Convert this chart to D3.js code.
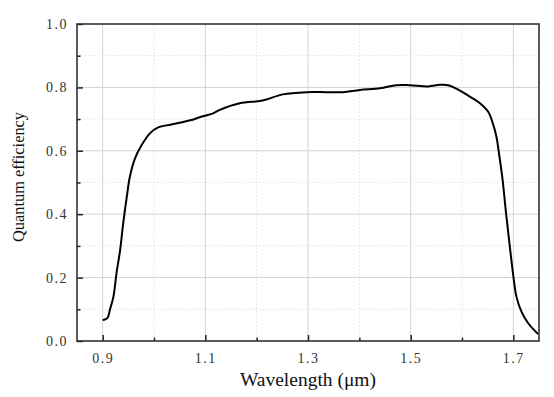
<!DOCTYPE html>
<html>
<head>
<meta charset="utf-8">
<script src="https://cdn.jsdelivr.net/npm/d3@7/dist/d3.min.js"></script>
<style>
  html, body { margin: 0; padding: 0; background: #fff; }
  svg { display: block; }
</style>
</head>
<body>
<svg id="chart" width="554" height="397"></svg>
<script>
const wavelength = [0.900, 0.905, 0.910, 0.914, 0.921, 0.927, 0.934, 0.940, 0.947, 0.953, 0.963, 0.976, 0.992, 1.008, 1.034, 1.073, 1.089, 1.115, 1.128, 1.167, 1.206, 1.219, 1.251, 1.297, 1.336, 1.368, 1.401, 1.440, 1.472, 1.498, 1.534, 1.557, 1.573, 1.596, 1.615, 1.635, 1.651, 1.660, 1.667, 1.673, 1.679, 1.686, 1.693, 1.700, 1.706, 1.716, 1.729, 1.748];
const efficiency = [0.066, 0.068, 0.074, 0.098, 0.140, 0.214, 0.287, 0.371, 0.455, 0.518, 0.576, 0.618, 0.655, 0.674, 0.683, 0.697, 0.706, 0.718, 0.729, 0.750, 0.757, 0.762, 0.778, 0.785, 0.785, 0.785, 0.792, 0.797, 0.807, 0.807, 0.803, 0.808, 0.807, 0.790, 0.771, 0.750, 0.723, 0.687, 0.645, 0.581, 0.510, 0.400, 0.300, 0.205, 0.140, 0.092, 0.056, 0.022];
const xMajorTicks = [0.9, 1.1, 1.3, 1.5, 1.7];
const xMinorTicks = [1.0, 1.2, 1.4, 1.6];
const yMajorTicks = [0.0, 0.2, 0.4, 0.6, 0.8, 1.0];
const yMinorTicks = [0.1, 0.3, 0.5, 0.7, 0.9];
const xTitle = "Wavelength (\u03bcm)";
const yTitle = "Quantum efficiency";

const svg = d3.select("#chart");
const m = { left: 77, right: 554 - 539, top: 24, bottom: 397 - 341 };
const W = 554 - m.left - m.right, H = 397 - m.top - m.bottom;
const x = d3.scaleLinear().domain([0.85, 1.75]).range([0, W]);
const y = d3.scaleLinear().domain([0, 1]).range([H, 0]);
const g = svg.append("g").attr("transform", `translate(${m.left},${m.top})`);
const font = "'Liberation Serif', 'DejaVu Serif', serif";

// grid
g.append("g").selectAll("line").data(xMajorTicks).join("line")
  .attr("x1", d => x(d)).attr("x2", d => x(d)).attr("y1", 0).attr("y2", H)
  .attr("stroke", "#d2d2d2").attr("stroke-width", 1);
g.append("g").selectAll("line").data(xMinorTicks).join("line")
  .attr("x1", d => x(d)).attr("x2", d => x(d)).attr("y1", 0).attr("y2", H)
  .attr("stroke", "#e2e2e2").attr("stroke-width", 1).attr("stroke-dasharray", "1.5,2");
g.append("g").selectAll("line").data(yMajorTicks.filter(d => d > 0 && d < 1)).join("line")
  .attr("x1", 0).attr("x2", W).attr("y1", d => y(d)).attr("y2", d => y(d))
  .attr("stroke", "#d2d2d2").attr("stroke-width", 1);
g.append("g").selectAll("line").data(yMinorTicks).join("line")
  .attr("x1", 0).attr("x2", W).attr("y1", d => y(d)).attr("y2", d => y(d))
  .attr("stroke", "#e2e2e2").attr("stroke-width", 1).attr("stroke-dasharray", "1.5,2");

// axes with inward ticks
const fmt = d3.format(".1f");
const xAxis = g.append("g").attr("transform", `translate(0,${H})`)
  .call(d3.axisBottom(x).tickValues(xMajorTicks).tickSizeInner(-6).tickSizeOuter(0).tickPadding(12).tickFormat(fmt));
const xAxisMinor = g.append("g").attr("transform", `translate(0,${H})`)
  .call(d3.axisBottom(x).tickValues(xMinorTicks).tickSizeInner(-3.5).tickSizeOuter(0).tickFormat(""));
const yAxis = g.append("g")
  .call(d3.axisLeft(y).tickValues(yMajorTicks).tickSizeInner(-6).tickSizeOuter(0).tickPadding(9).tickFormat(fmt));
const yAxisMinor = g.append("g")
  .call(d3.axisLeft(y).tickValues(yMinorTicks).tickSizeInner(-3.5).tickSizeOuter(0).tickFormat(""));
[xAxis, xAxisMinor, yAxis, yAxisMinor].forEach(a => {
  a.select(".domain").remove();
  a.selectAll(".tick line").attr("stroke", "#222").attr("stroke-width", 1.5);
  a.selectAll("text").attr("font-family", font).attr("font-size", 14).attr("fill", "#333")
    .attr("letter-spacing", "1.5px");
});

// frame
g.append("rect").attr("x", 0).attr("y", 0).attr("width", W).attr("height", H)
  .attr("fill", "none").attr("stroke", "#333").attr("stroke-width", 1.6);

// curve
const pts = wavelength.map((w, i) => [w, efficiency[i]]);
g.append("path").datum(pts)
  .attr("fill", "none").attr("stroke", "#000").attr("stroke-width", 2)
  .attr("stroke-linejoin", "round")
  .attr("d", d3.line().x(d => x(d[0])).y(d => y(d[1])).curve(d3.curveCatmullRom.alpha(0.5)));

// titles
svg.append("text").attr("x", m.left + x(1.3)).attr("y", 386)
  .attr("text-anchor", "middle").attr("font-family", font).attr("font-size", 18)
  .attr("fill", "#111").attr("textLength", 136).attr("lengthAdjust", "spacingAndGlyphs")
  .text(xTitle);
svg.append("text").attr("transform", "translate(24,177) rotate(-90)")
  .attr("text-anchor", "middle").attr("font-family", font).attr("font-size", 17)
  .attr("fill", "#111").attr("textLength", 130).attr("lengthAdjust", "spacingAndGlyphs")
  .text(yTitle);
</script>
</body>
</html>
